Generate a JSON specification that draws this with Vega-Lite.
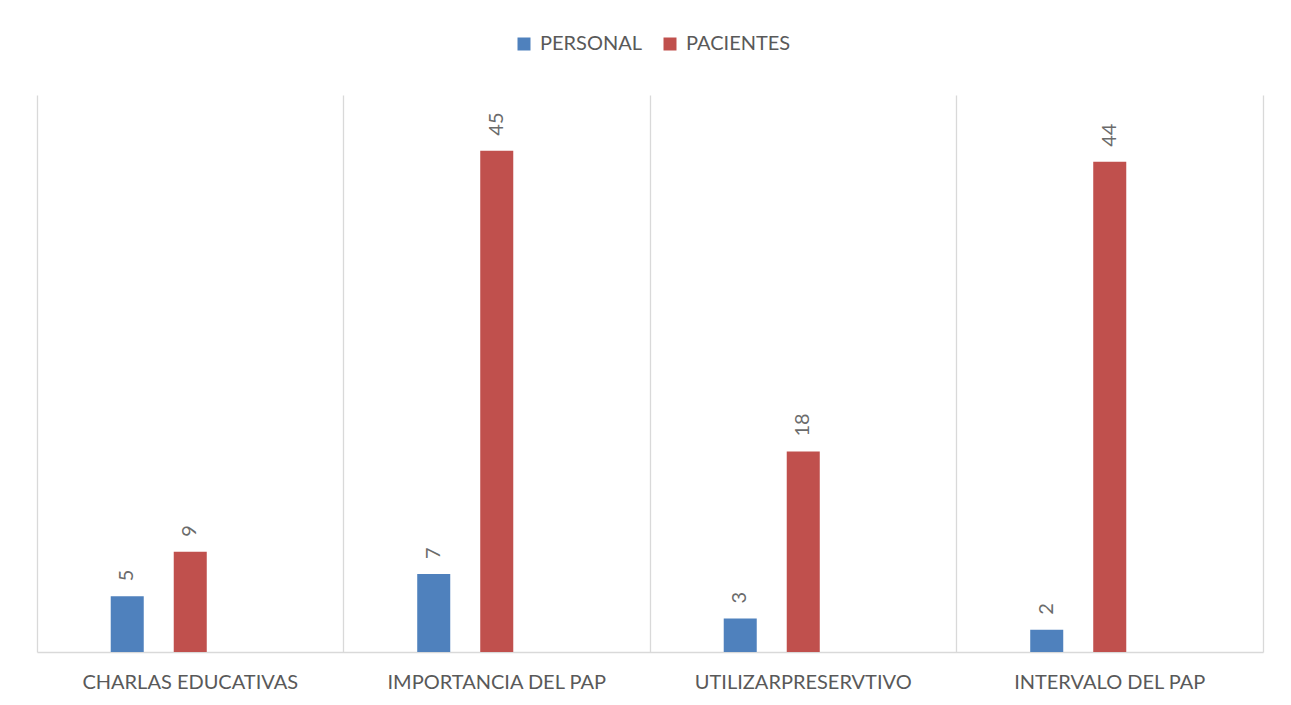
{
  "$schema": "https://vega.github.io/schema/vega-lite/v6.json",
  "width": 1226,
  "height": 557,
  "padding": {"left": 37, "top": 34, "right": 28, "bottom": 5},
  "background": "white",
  "config": {
    "font": "Lato",
    "view": {"stroke": null}
  },
  "data": {
    "values": [
      {"categoria": "CHARLAS EDUCATIVAS", "serie": "PERSONAL", "valor": 5},
      {"categoria": "CHARLAS EDUCATIVAS", "serie": "PACIENTES", "valor": 9},
      {"categoria": "IMPORTANCIA DEL PAP", "serie": "PERSONAL", "valor": 7},
      {"categoria": "IMPORTANCIA DEL PAP", "serie": "PACIENTES", "valor": 45},
      {"categoria": "UTILIZARPRESERVTIVO", "serie": "PERSONAL", "valor": 3},
      {"categoria": "UTILIZARPRESERVTIVO", "serie": "PACIENTES", "valor": 18},
      {"categoria": "INTERVALO DEL PAP", "serie": "PERSONAL", "valor": 2},
      {"categoria": "INTERVALO DEL PAP", "serie": "PACIENTES", "valor": 44}
    ]
  },
  "encoding": {
    "x": {
      "field": "categoria",
      "type": "nominal",
      "sort": null,
      "scale": {"paddingInner": 0, "paddingOuter": 0},
      "axis": {
        "title": null,
        "labelAngle": 0,
        "labelFontSize": 20,
        "labelColor": "#595959",
        "labelPadding": 20,
        "labelLimit": 0,
        "ticks": false,
        "grid": true,
        "bandPosition": 0,
        "gridColor": "#d9d9d9",
        "gridWidth": 1.3,
        "domainColor": "#d9d9d9",
        "domainWidth": 1.3
      }
    },
    "xOffset": {
      "field": "serie",
      "type": "nominal",
      "scale": {"domain": ["_a", "PERSONAL", "PACIENTES", "_b", "_c"], "paddingInner": 0.476, "paddingOuter": 0.17}
    },
    "y": {
      "field": "valor",
      "type": "quantitative",
      "scale": {"domain": [0, 50], "nice": false},
      "axis": {
        "orient": "right",
        "title": null,
        "labels": false,
        "ticks": false,
        "grid": false,
        "domain": true,
        "domainColor": "#d9d9d9",
        "domainWidth": 1.3
      }
    }
  },
  "layer": [
    {
      "mark": {"type": "bar"},
      "encoding": {
        "color": {
          "field": "serie",
          "type": "nominal",
          "scale": {"domain": ["PERSONAL", "PACIENTES"], "range": ["#4F81BD", "#C0504D"]},
          "legend": {
            "title": null,
            "orient": "none",
            "legendX": 477,
            "legendY": -61,
            "direction": "horizontal",
            "symbolType": "square",
            "symbolSize": 169,
            "symbolStrokeWidth": 0,
            "labelFontSize": 20,
            "labelColor": "#595959",
            "labelOffset": 6,
            "columnPadding": 17
          }
        }
      }
    },
    {
      "mark": {"type": "text", "angle": -90, "align": "left", "baseline": "middle", "dx": 15, "fontSize": 20, "color": "#6b6b6b"},
      "encoding": {
        "text": {"field": "valor", "type": "quantitative"}
      }
    }
  ]
}
